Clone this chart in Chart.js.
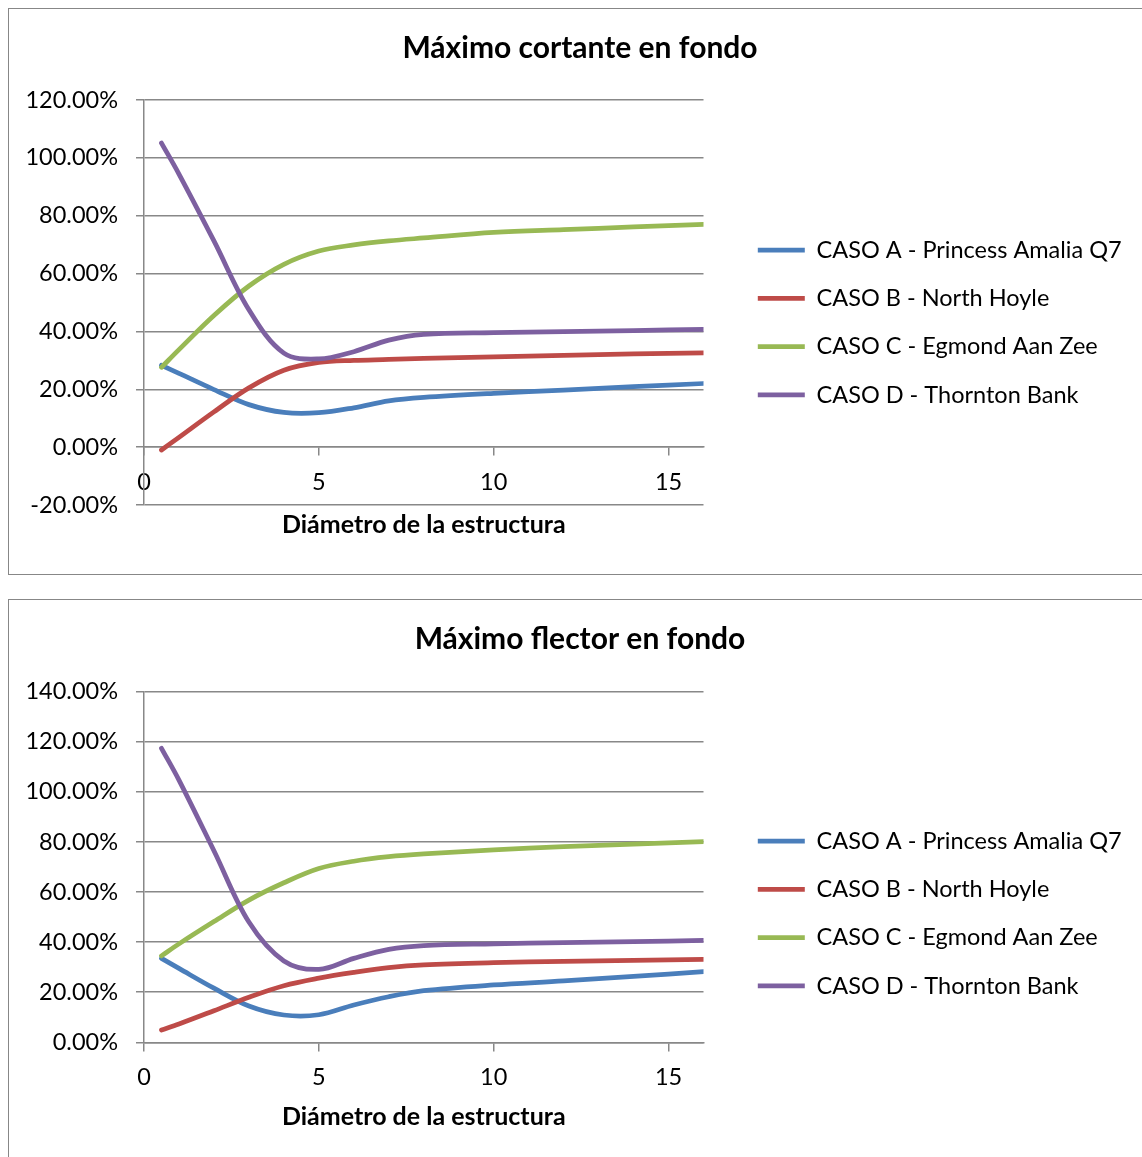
<!DOCTYPE html>
<html lang="es">
<head>
<meta charset="utf-8">
<title>Máximo cortante y flector en fondo</title>
<script src="https://cdn.jsdelivr.net/npm/chart.js@4.4.1/dist/chart.umd.min.js"></script>
<style>
  html, body { margin: 0; padding: 0; background: #fff; overflow: hidden; width: 1142px; height: 1157px; }
  .frame { position: absolute; box-sizing: border-box; border: 1px solid #878787; background: #fff; }
  #frameTop { left: 8px; top: 8px; width: 1150px; height: 567px; }
  #frameBottom { left: 8px; top: 599px; width: 1150px; height: 620px; }
  .plot { position: absolute; }
  #wrapTop { left: 9px; top: 9px; width: 1133px; height: 564px; }
  #wrapBottom { left: 9px; top: 600px; width: 1133px; height: 557px; }
</style>
</head>
<body>
<div class="frame" id="frameTop"></div>
<div class="frame" id="frameBottom"></div>
<div class="plot" id="wrapTop"><canvas id="chartCortante"></canvas></div>
<div class="plot" id="wrapBottom"><canvas id="chartFlector"></canvas></div>
<script>
// Diámetro de la estructura (m)
const diametros = [0.5, 1, 2, 3, 4, 5, 6, 7, 8, 10, 12, 14, 16];

const nombresCasos = [
  'CASO A - Princess Amalia Q7',
  'CASO B - North Hoyle',
  'CASO C - Egmond Aan Zee',
  'CASO D - Thornton Bank'
];

// Máximo cortante en fondo (%)
const cortanteA = [28.3, 25.5, 19.9, 14.7, 12.0, 11.9, 13.6, 16.0, 17.2, 18.6, 19.7, 20.9, 22.0];
const cortanteB = [-1.0, 3.4, 12.2, 20.5, 26.6, 29.3, 30.0, 30.3, 30.7, 31.2, 31.7, 32.2, 32.6];
const cortanteC = [27.6, 33.7, 45.5, 55.7, 63.2, 67.8, 69.9, 71.3, 72.3, 74.2, 75.2, 76.1, 77.0];
const cortanteD = [105.1, 94.4, 71.3, 47.5, 32.5, 30.5, 33.0, 37.0, 39.0, 39.6, 39.9, 40.3, 40.7];

// Máximo flector en fondo (%)
const flectorA = [33.5, 29.5, 21.6, 14.5, 10.9, 11.0, 14.9, 18.2, 20.6, 22.9, 24.5, 26.3, 28.2];
const flectorB = [4.9, 7.3, 12.6, 18.0, 22.6, 25.6, 27.9, 29.8, 30.9, 31.8, 32.3, 32.7, 33.1];
const flectorC = [34.5, 39.3, 48.2, 56.8, 63.7, 69.4, 72.3, 74.1, 75.2, 76.8, 78.1, 79.1, 80.1];
const flectorD = [117.4, 104.7, 76.5, 48.0, 32.5, 29.1, 33.5, 37.1, 38.6, 39.3, 39.8, 40.2, 40.7];

const coloresCasos = ['#4A7EBB', '#BE4B48', '#98B954', '#7D60A0'];
const GRIS = '#888888';

Chart.defaults.font.family = 'Lato, "Open Sans", sans-serif';
Chart.defaults.color = '#000';

// After layout: centre the title over the whole frame, move the legend block
// and widen its clip box to the canvas edge.
const blockOffsets = {
  id: 'blockOffsets',
  afterLayout(chart, args, opts) {
    const lg = chart.legend;
    if (lg) {
      const dx = opts.legendX || 0, dy = opts.legendY || 0;
      lg.left += dx;
      lg.top += dy;
      lg.bottom += dy;
      lg.right = chart.width;
    }
    const tb = chart.titleBlock;
    if (tb) {
      const tx = opts.titleX || 0;
      tb.left += tx;
      tb.right += tx;
    }
  }
};

function serie(valores) {
  return diametros.map((d, i) => ({ x: d, y: valores[i] }));
}

function crearGrafico(id, titulo, series, yMin, yMax, pad) {
  const datasets = series.map((vals, i) => ({
    label: nombresCasos[i],
    data: serie(vals),
    borderColor: coloresCasos[i],
    backgroundColor: coloresCasos[i],
    borderWidth: 4.75,
    borderCapStyle: 'round',
    borderJoinStyle: 'round',
    pointRadius: 0,
    pointHoverRadius: 0,
    tension: 0.35,
    fill: false,
    order: series.length - i
  }));

  return new Chart(document.getElementById(id), {
    type: 'line',
    data: { datasets },
    plugins: [blockOffsets],
    options: {
      responsive: true,
      maintainAspectRatio: false,
      animation: false,
      events: [],
      layout: { padding: { left: 0, right: 68.5, top: 0, bottom: 0 } },
      scales: {
        x: {
          type: 'linear',
          position: { y: 0 },
          min: 0,
          max: 16,
          ticks: { stepSize: 5, includeBounds: false, padding: pad.xTick, font: { size: 23.5 } },
          grid: { display: true, drawOnChartArea: false, drawTicks: true, tickLength: 8, color: GRIS, lineWidth: 1.5 },
          border: { display: true, color: GRIS, width: 1.5 }
        },
        y: {
          min: yMin,
          max: yMax,
          afterFit(scale) { scale.width = 135; },
          ticks: {
            stepSize: 20,
            padding: 18,
            font: { size: 23.5 },
            callback: (v) => v.toFixed(2) + '%'
          },
          grid: { color: GRIS, lineWidth: 1.5, tickLength: 8, drawTicks: true },
          border: { display: true, color: GRIS, width: 1.5 }
        }
      },
      plugins: {
        title: {
          display: true,
          text: titulo,
          color: '#000',
          font: { size: 30, weight: 'bold' },
          padding: { top: pad.titleTop, bottom: pad.titleBottom }
        },
        subtitle: {
          display: true,
          position: 'bottom',
          fullSize: false,
          text: 'Diámetro de la estructura',
          color: '#000',
          font: { size: 25, weight: 'bold' },
          padding: { top: pad.subTop, bottom: pad.subBottom }
        },
        legend: {
          display: true,
          position: 'right',
          align: 'center',
          maxWidth: 370,
          labels: {
            usePointStyle: true,
            pointStyle: 'line',
            pointStyleWidth: 47,
            boxHeight: 23.5,
            padding: 24.8,
            color: '#000',
            font: { size: 23.5 },
            sort: (a, b) => a.datasetIndex - b.datasetIndex
          }
        },
        blockOffsets: { legendX: 29.5, legendY: pad.legendDy, titleX: 38.75 },
        tooltip: { enabled: false }
      }
    }
  });
}

crearGrafico('chartCortante', 'Máximo cortante en fondo',
  [cortanteA, cortanteB, cortanteC, cortanteD], -20, 120,
  { titleTop: 21, titleBottom: 34, subTop: 5, subBottom: 33, xTick: 13, legendDy: 31.5 });

crearGrafico('chartFlector', 'Máximo flector en fondo',
  [flectorA, flectorB, flectorC, flectorD], 0, 140,
  { titleTop: 21, titleBottom: 34.7, subTop: 59.7, subBottom: 25, xTick: 13, legendDy: 35 });
</script>
</body>
</html>
